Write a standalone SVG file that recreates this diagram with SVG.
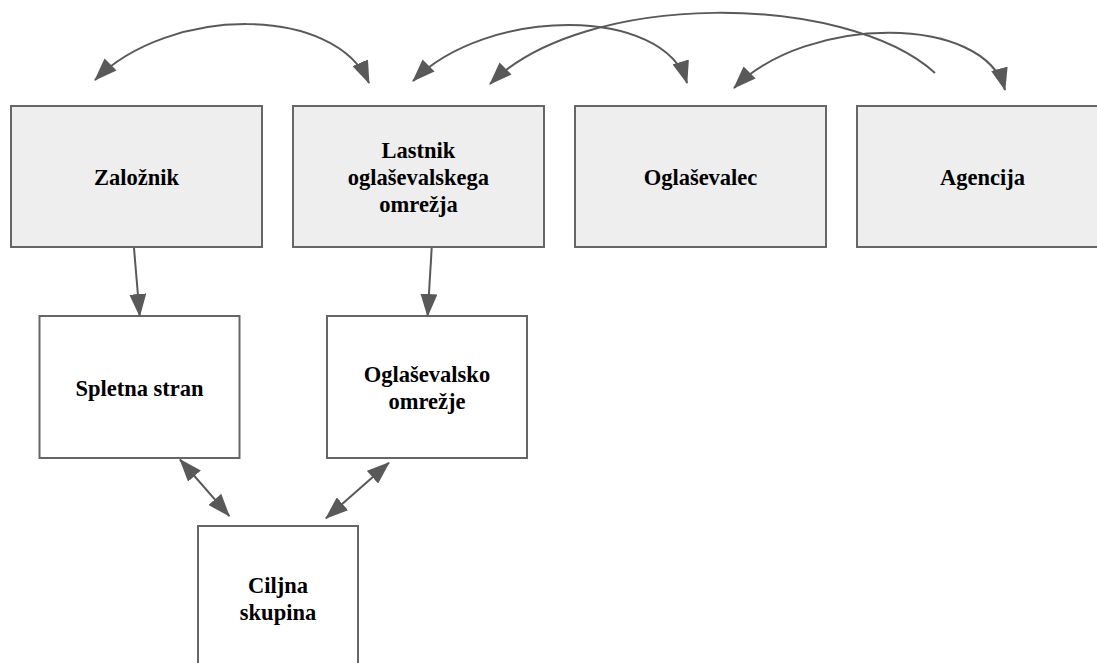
<svg xmlns="http://www.w3.org/2000/svg" width="1097" height="663" viewBox="0 0 1097 663">
<style>
.box{stroke:#666666;stroke-width:2}
.top{fill:#eeeeee}
.low{fill:#ffffff}
.lbl{font-family:"Liberation Serif","Times New Roman",serif;font-weight:bold;font-size:22.5px;fill:#000;text-anchor:middle}
.edge{fill:none;stroke:#595959;stroke-width:2}
</style>
<defs>
<marker id="ah" markerUnits="userSpaceOnUse" markerWidth="23" markerHeight="17" refX="22" refY="8.5" orient="auto-start-reverse">
<path d="M0,0 L23,8.5 L0,17 z" fill="#595959"/>
</marker>
</defs>
<rect width="1097" height="663" fill="#ffffff"/>
<g id="zaloznik"><rect class="box top" x="11" y="106" width="251" height="141"/><text class="lbl" x="136.5" y="185">Založnik</text></g>
<g id="lastnik"><rect class="box top" x="293" y="106" width="251" height="141"/><text class="lbl" x="418.5" y="158">Lastnik</text><text class="lbl" x="418.5" y="185">oglaševalskega</text><text class="lbl" x="418.5" y="212">omrežja</text></g>
<g id="oglasevalec"><rect class="box top" x="575" y="106" width="251" height="141"/><text class="lbl" x="700.5" y="185">Oglaševalec</text></g>
<g id="agencija"><rect class="box top" x="857" y="106" width="251" height="141"/><text class="lbl" x="982.5" y="185">Agencija</text></g>
<g id="spletna"><rect class="box low" x="39.5" y="316" width="200" height="142"/><text class="lbl" x="139.5" y="396">Spletna stran</text></g>
<g id="omrezje"><rect class="box low" x="327" y="316" width="200" height="142"/><text class="lbl" x="427" y="382">Oglaševalsko</text><text class="lbl" x="427" y="408.5">omrežje</text></g>
<g id="ciljna"><rect class="box low" x="198" y="526" width="160" height="142"/><text class="lbl" x="278" y="593">Ciljna</text><text class="lbl" x="278" y="619.5">skupina</text></g>
<g id="connectors">
<path class="edge" d="M95,80 C170,5 335,5 369,83" marker-start="url(#ah)" marker-end="url(#ah)"/>
<path class="edge" d="M413,81 C488,6 664,6 687,83" marker-start="url(#ah)" marker-end="url(#ah)"/>
<path class="edge" d="M935,73 C845,-8 584,-10 490,84" marker-end="url(#ah)"/>
<path class="edge" d="M734,88 C808,14 985,14 1005,90" marker-start="url(#ah)" marker-end="url(#ah)"/>
<path class="edge" d="M134,248 L139.7,316" marker-end="url(#ah)"/>
<path class="edge" d="M431.7,248 L427.6,316" marker-end="url(#ah)"/>
<path class="edge" d="M180,459.5 L229.3,516" marker-start="url(#ah)" marker-end="url(#ah)"/>
<path class="edge" d="M389,462.7 L325.9,518.3" marker-start="url(#ah)" marker-end="url(#ah)"/>
</g>
</svg>
